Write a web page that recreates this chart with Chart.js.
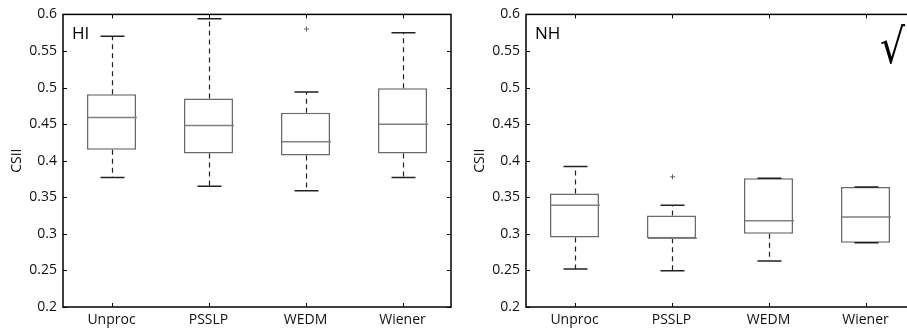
<!DOCTYPE html>
<html>
<head>
<meta charset="utf-8">
<script src="https://cdn.jsdelivr.net/npm/chart.js@4/dist/chart.umd.min.js"></script>
<style>
  html, body { margin: 0; padding: 0; background: #fff; overflow: hidden; }
  body { width: 907px; height: 329px; position: relative; }
  canvas { position: absolute; top: 0; }
  #hi { left: 0; }
  #nh { left: 463px; }
</style>
</head>
<body>
<canvas id="hi" width="460" height="329"></canvas>
<canvas id="nh" width="460" height="329"></canvas>
<script>
const categories = ["Unproc", "PSSLP", "WEDM", "Wiener"];
const yTicks = [0.2, 0.25, 0.3, 0.35, 0.4, 0.45, 0.5, 0.55, 0.6];

// HI panel
const hiLower = [0.377, 0.365, 0.359, 0.377];
const hiQ1 = [0.415, 0.410, 0.407, 0.410];
const hiMedian = [0.459, 0.448, 0.426, 0.450];
const hiQ3 = [0.491, 0.485, 0.4655, 0.499];
const hiUpper = [0.570, 0.594, 0.494, 0.575];
const hiOutliers = [[], [], [0.580], []];

// NH panel
const nhLower = [0.252, 0.2495, 0.263, 0.288];
const nhQ1 = [0.295, 0.294, 0.300, 0.288];
const nhMedian = [0.339, 0.294, 0.318, 0.323];
const nhQ3 = [0.355, 0.325, 0.376, 0.364];
const nhUpper = [0.392, 0.339, 0.376, 0.364];
const nhOutliers = [[], [0.378], [], []];

const FONT = "'Open Sans', 'Noto Sans', sans-serif";

const boxPlot = {
  id: "boxPlot",
  afterDatasetsDraw(chart, args, opts) {
    const { ctx, chartArea: a, scales: { x, y } } = chart;
    const bars = chart.getDatasetMeta(0).data;
    ctx.save();
    opts.median.forEach((m, i) => {
      const cx = Math.round(x.getPixelForValue(i)) + 0.5;
      const w = bars[i].width;
      // whiskers
      ctx.strokeStyle = "#222";
      ctx.lineWidth = 1.2;
      ctx.setLineDash([5, 4]);
      ctx.beginPath();
      ctx.moveTo(cx, y.getPixelForValue(opts.q3[i]));
      ctx.lineTo(cx, y.getPixelForValue(opts.upper[i]));
      ctx.moveTo(cx, y.getPixelForValue(opts.q1[i]));
      ctx.lineTo(cx, y.getPixelForValue(opts.lower[i]));
      ctx.stroke();
      ctx.setLineDash([]);
      // caps
      ctx.lineWidth = 1.5;
      ctx.beginPath();
      [opts.upper[i], opts.lower[i]].forEach(v => {
        const py = y.getPixelForValue(v);
        ctx.moveTo(cx - 12, py);
        ctx.lineTo(cx + 12, py);
      });
      ctx.stroke();
      // median
      ctx.strokeStyle = "#808080";
      ctx.lineWidth = 1.5;
      ctx.beginPath();
      const my = y.getPixelForValue(m);
      ctx.moveTo(cx - w / 2, my);
      ctx.lineTo(cx + w / 2, my);
      ctx.stroke();
      // outliers
      ctx.strokeStyle = "#666";
      ctx.lineWidth = 1;
      opts.outliers[i].forEach(v => {
        const py = y.getPixelForValue(v);
        ctx.beginPath();
        ctx.moveTo(cx - 2.5, py);
        ctx.lineTo(cx + 2.5, py);
        ctx.moveTo(cx, py - 2.5);
        ctx.lineTo(cx, py + 2.5);
        ctx.stroke();
      });
    });

    // frame and inward ticks
    ctx.strokeStyle = "#000";
    ctx.lineWidth = 1.5;
    ctx.strokeRect(a.left, a.top, a.right - a.left, a.bottom - a.top);
    ctx.lineWidth = 1;
    ctx.beginPath();
    yTicks.forEach(v => {
      const py = Math.round(y.getPixelForValue(v)) + 0.5;
      ctx.moveTo(a.left, py); ctx.lineTo(a.left + 4, py);
      ctx.moveTo(a.right, py); ctx.lineTo(a.right - 4, py);
    });
    categories.forEach((c, i) => {
      const px = Math.round(x.getPixelForValue(i)) + 0.5;
      ctx.moveTo(px, a.top); ctx.lineTo(px, a.top + 4);
      ctx.moveTo(px, a.bottom); ctx.lineTo(px, a.bottom - 4);
    });
    ctx.stroke();

    // panel label
    ctx.fillStyle = "#000";
    ctx.font = "17px " + FONT;
    ctx.textBaseline = "middle";
    ctx.textAlign = "left";
    ctx.fillText(opts.label, a.left + 9, a.top + 20);
    if (opts.mark) {
      ctx.translate(a.right - 9, a.top + 49);
      ctx.scale(0.82, 1);
      ctx.font = "48px 'DejaVu Sans'";
      ctx.textAlign = "right";
      ctx.textBaseline = "alphabetic";
      ctx.fillText(opts.mark, 0, 0);
    }
    ctx.restore();
  }
};

function makeChart(id, label, mark, lower, q1, median, q3, upper, outliers) {
  return new Chart(document.getElementById(id), {
    type: "bar",
    data: {
      labels: categories,
      datasets: [{
        data: q1.map((v, i) => [v, q3[i]]),
        backgroundColor: "#fff",
        borderColor: "#6a6a6a",
        borderWidth: 1.5,
        borderSkipped: false,
        barPercentage: 0.505,
        categoryPercentage: 1
      }]
    },
    options: {
      responsive: false,
      animation: false,
      layout: { padding: { top: 13, right: 9, left: 0, bottom: 0 } },
      plugins: {
        legend: { display: false },
        tooltip: { enabled: false },
        boxPlot: { label, mark, lower, q1, median, q3, upper, outliers }
      },
      scales: {
        x: {
          grid: { display: false, drawTicks: false },
          border: { display: false },
          ticks: { color: "#111", font: { family: FONT, size: 14 }, padding: 5 },
          afterFit(scale) { scale.height = 22; }
        },
        y: {
          min: 0.2,
          max: 0.6,
          grid: { display: false, drawTicks: false },
          border: { display: false },
          afterBuildTicks(scale) { scale.ticks = yTicks.map(v => ({ value: v })); },
          ticks: {
            color: "#111",
            font: { family: FONT, size: 14 },
            padding: 6,
            callback: v => String(+v.toFixed(2))
          },
          title: {
            display: true,
            text: "CSII",
            color: "#111",
            font: { family: FONT, size: 14 },
            padding: { top: 8.6, bottom: 0 }
          },
          afterFit(scale) { scale.width = 63; }
        }
      }
    },
    plugins: [boxPlot]
  });
}

makeChart("hi", "HI", null, hiLower, hiQ1, hiMedian, hiQ3, hiUpper, hiOutliers);
makeChart("nh", "NH", "\u221A", nhLower, nhQ1, nhMedian, nhQ3, nhUpper, nhOutliers);
</script>
</body>
</html>
